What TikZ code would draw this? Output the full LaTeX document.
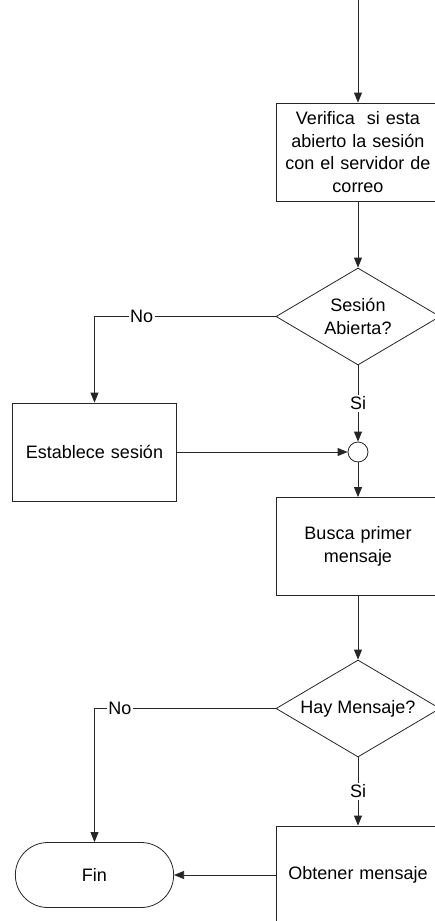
\documentclass[tikz,border=0pt]{standalone}
\usepackage{fontspec}
\setmainfont{Liberation Sans}
\usetikzlibrary{arrows.meta,shapes.geometric,shapes.misc}
\tikzstyle{proceso} = [draw, shape=rectangle, minimum width=164pt, minimum height=98pt, text width=154pt, align=center, inner sep=2pt]
\tikzstyle{decision} = [draw, shape=diamond, aspect=1.68, minimum width=164pt, minimum height=97pt, inner sep=0pt, align=center]
\tikzstyle{union} = [draw, shape=circle, minimum size=20pt, inner sep=0pt]
\tikzstyle{terminal} = [draw, shape=rounded rectangle, minimum width=165pt, minimum height=65pt]
\tikzstyle{etiqueta} = [fill=white, inner sep=1.5pt]

\begin{document}
\begin{tikzpicture}[x=1pt, y=-1pt, line width=0.8pt, draw=black!85, >={Triangle[length=10pt,width=8pt]}, font=\fontsize{18}{22.5}\selectfont]
    \useasboundingbox (0,0) rectangle (435,921);
    \clip (0,0) rectangle (435,921);
    \coordinate (inicio) at (358,0);
    \draw (358,152) node[proceso] (verifica) {Verifica\ \ si esta\\abierto la sesi\'on\\con el servidor de\\correo};
    \draw (358,316.5) node[decision] (sesion) {Sesi\'on\\Abierta?};
    \draw (94.5,452) node[proceso] (establece) {Establece sesi\'on};
    \draw (358,452) node[union] (junta) {};
    \draw (358,546.5) node[proceso] (busca) {Busca primer\\mensaje};
    \draw (358,708.5) node[decision] (hay) {Hay Mensaje?};
    \draw (94.5,875) node[terminal] (fin) {Fin};
    \draw (358,875) node[proceso] (obtener) {Obtener mensaje};
    \draw [->] (inicio) -- (verifica);
    \draw [->] (verifica) -- (sesion);
    \draw [->] (sesion.west) -| node [etiqueta, pos=.37] {No} (establece.north);
    \draw [->] (sesion.south) -- node [etiqueta] {Si} (junta.north);
    \draw [->] (establece.east) -- (junta.west);
    \draw [->] (junta) -- (busca);
    \draw [->] (busca) -- (hay);
    \draw [->] (hay.west) -| node [etiqueta, pos=.43] {No} (fin.north);
    \draw [->] (hay.south) -- node [etiqueta] {Si} (obtener.north);
    \draw [->] (obtener.west) -- (fin.east);
\end{tikzpicture}
\end{document}
